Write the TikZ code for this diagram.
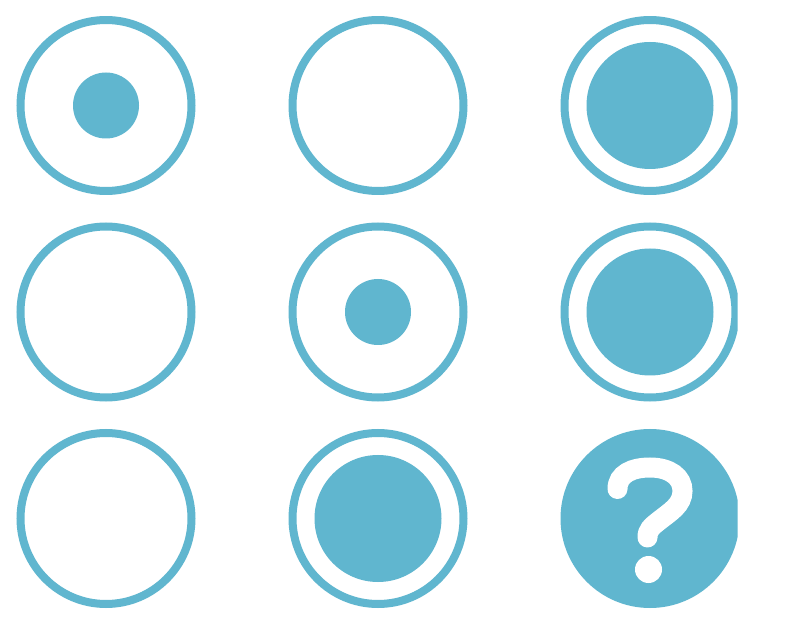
\documentclass[tikz,border=0pt]{standalone}
\definecolor{ring}{RGB}{96,182,207}
\begin{document}
\begin{tikzpicture}[x=1pt,y=-1pt,
  outer/.style={draw=ring, line width=8pt},
  bigdot/.style={fill=ring},
]
\useasboundingbox[fill=white] (0,0) rectangle (804,628);
\clip (0,17) rectangle (737.5,628);
% row 1
\draw[outer] (106,105.5) circle[radius=85.5];
\fill[bigdot] (106,105.5) circle[radius=33];
\draw[outer] (378,105.5) circle[radius=85.5];
\draw[outer] (650,105.5) circle[radius=85.5];
\fill[bigdot] (650,105.5) circle[radius=63.5];
% row 2
\draw[outer] (106,312) circle[radius=85.5];
\draw[outer] (378,312) circle[radius=85.5];
\fill[bigdot] (378,312) circle[radius=33];
\draw[outer] (650,312) circle[radius=85.5];
\fill[bigdot] (650,312) circle[radius=63.5];
% row 3
\draw[outer] (106,518.5) circle[radius=85.5];
\draw[outer] (378,518.5) circle[radius=85.5];
\fill[bigdot] (378,518.5) circle[radius=63.5];
\fill[ring] (650,518.5) circle[radius=89.5];
\draw[white, line width=20pt, line cap=round]
  (617.5,489) .. controls (617.5,474) and (632,467.5) .. (650,467.5)
  .. controls (670,467.5) and (682.5,477) .. (682.5,491)
  .. controls (682.5,505) and (670,512) .. (660,520)
  .. controls (651,527) and (647.5,530) .. (647.5,537.5);
\fill[white] (648.5,569.5) circle[radius=13.5];
\end{tikzpicture}
\end{document}
